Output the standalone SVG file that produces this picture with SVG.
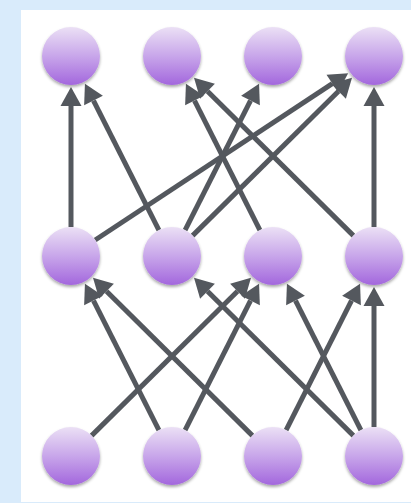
<svg xmlns="http://www.w3.org/2000/svg" width="411" height="503" viewBox="0 0 411 503">
<style>
.edge{stroke:#54585e;stroke-width:5;fill:none;marker-end:url(#ah)}
.node{fill:url(#ng);filter:url(#sh)}
</style>
<defs>
<linearGradient id="ng" x1="0" y1="0" x2="0" y2="1">
<stop offset="0" stop-color="#ebe0f5"/>
<stop offset="0.5" stop-color="#c8a6ea"/>
<stop offset="1" stop-color="#a367dd"/>
</linearGradient>
<filter id="sh" x="-30%" y="-30%" width="160%" height="170%">
<feDropShadow dx="0" dy="2" stdDeviation="1.6" flood-color="#000" flood-opacity="0.35"/>
</filter>
<marker id="ah" viewBox="0 -11 19 22" refX="0" refY="0" markerWidth="19" markerHeight="22" markerUnits="userSpaceOnUse" orient="auto" overflow="visible">
<path d="M0,-10.5 L19,0 L0,10.5 Z" fill="#54585e"/>
</marker>
</defs>
<rect x="0" y="0" width="411" height="503" fill="#d9ebfb"/>
<rect x="21" y="10" width="390" height="492" fill="#ffffff"/>
<g id="connectors">
<line class="edge" x1="71" y1="227" x2="71" y2="106"/>
<line class="edge" x1="95.2" y1="240" x2="332.3" y2="83.6"/>
<line class="edge" x1="158.9" y1="230.1" x2="93.5" y2="100.6"/>
<line class="edge" x1="185.1" y1="230.1" x2="250.5" y2="100.6"/>
<line class="edge" x1="192.6" y1="235.6" x2="338.5" y2="91.2"/>
<line class="edge" x1="259.9" y1="230.1" x2="194.5" y2="100.6"/>
<line class="edge" x1="353.4" y1="235.6" x2="207.5" y2="91.2"/>
<line class="edge" x1="374" y1="227" x2="374" y2="106"/>
<line class="edge" x1="91.6" y1="435.6" x2="237.5" y2="291.2"/>
<line class="edge" x1="158.9" y1="430.1" x2="93.5" y2="300.6"/>
<line class="edge" x1="185.1" y1="430.1" x2="250.5" y2="300.6"/>
<line class="edge" x1="252.4" y1="435.6" x2="106.5" y2="291.2"/>
<line class="edge" x1="286.1" y1="430.1" x2="351.5" y2="300.6"/>
<line class="edge" x1="353.4" y1="435.6" x2="207.5" y2="291.2"/>
<line class="edge" x1="360.9" y1="430.1" x2="295.5" y2="300.6"/>
<line class="edge" x1="374" y1="427" x2="374" y2="306"/>
</g>
<g id="t1"><circle class="node" cx="71" cy="56" r="29"/></g>
<g id="t2"><circle class="node" cx="172" cy="56" r="29"/></g>
<g id="t3"><circle class="node" cx="273" cy="56" r="29"/></g>
<g id="t4"><circle class="node" cx="374" cy="56" r="29"/></g>
<g id="m1"><circle class="node" cx="71" cy="256" r="29"/></g>
<g id="m2"><circle class="node" cx="172" cy="256" r="29"/></g>
<g id="m3"><circle class="node" cx="273" cy="256" r="29"/></g>
<g id="m4"><circle class="node" cx="374" cy="256" r="29"/></g>
<g id="b1"><circle class="node" cx="71" cy="456" r="29"/></g>
<g id="b2"><circle class="node" cx="172" cy="456" r="29"/></g>
<g id="b3"><circle class="node" cx="273" cy="456" r="29"/></g>
<g id="b4"><circle class="node" cx="374" cy="456" r="29"/></g>
</svg>
